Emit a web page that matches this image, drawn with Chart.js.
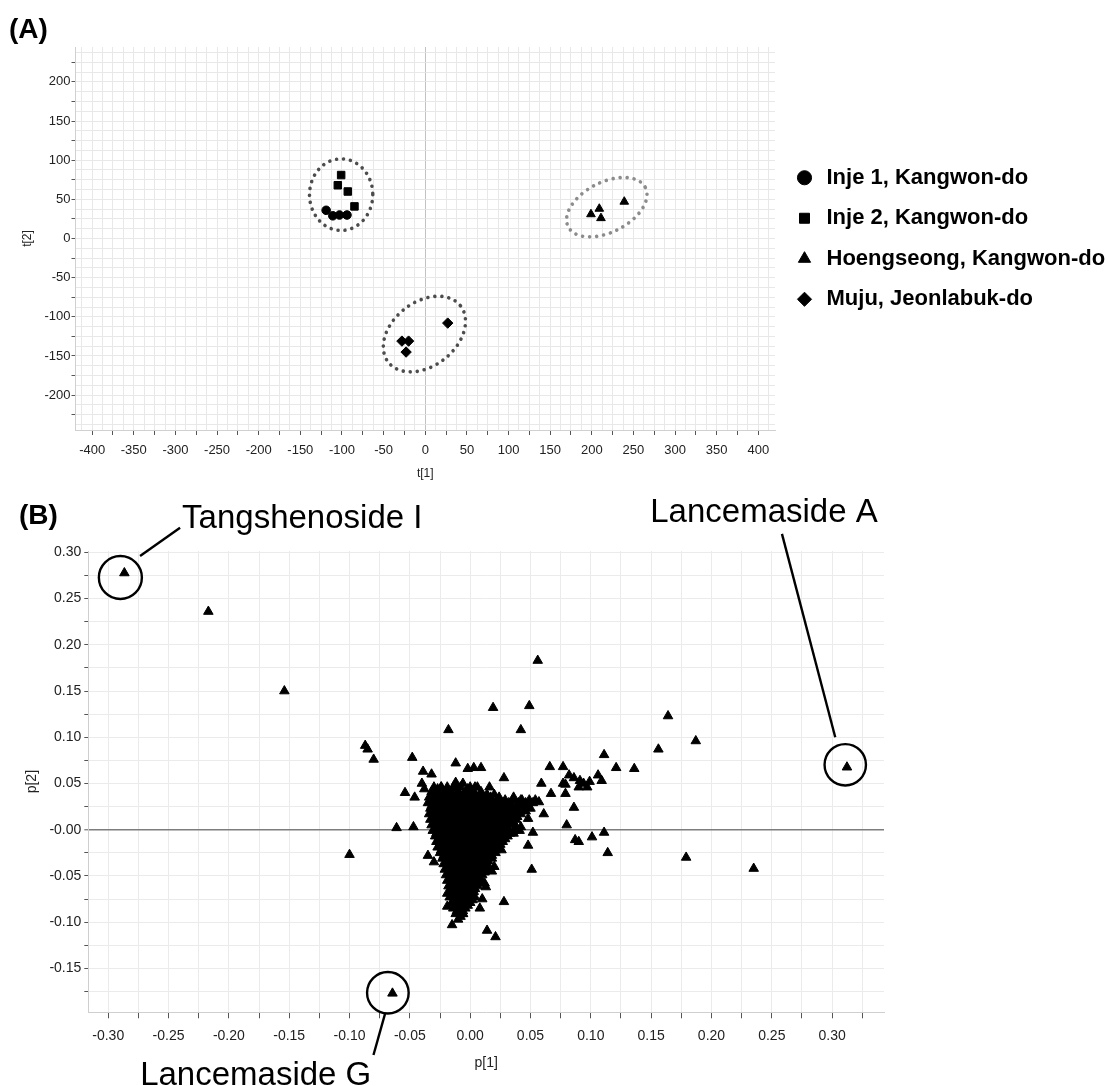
<!DOCTYPE html>
<html>
<head>
<meta charset="utf-8">
<script src="https://cdn.jsdelivr.net/npm/chart.js@4.4.1/dist/chart.umd.min.js"></script>
<style>
  body { margin: 0; background: #fff; }
  canvas { display: block; }
</style>
</head>
<body>
<canvas id="scoreChart" width="1110" height="482"></canvas>
<canvas id="loadingChart" width="1110" height="604"></canvas>
<script>
"use strict";

/* (A) PCA scores */
const groupNames = ['Inje 1, Kangwon-do', 'Inje 2, Kangwon-do', 'Hoengseong, Kangwon-do', 'Muju, Jeonlabuk-do'];
const inje1 = [[-119, 36], [-111, 29], [-103, 30], [-94, 30]];
const inje2 = [[-101, 81], [-105, 68], [-93, 60], [-85, 41]];
const hoengseong = [[199, 31], [209, 38], [211, 26], [239, 47]];
const muju = [[-28, -131], [-20, -131], [-23, -145], [27, -108]];
const scoreLabelsX = [-400, -350, -300, -250, -200, -150, -100, -50, 0, 50, 100, 150, 200, 250, 300, 350, 400];
const scoreLabelsY = [-200, -150, -100, -50, 0, 50, 100, 150, 200];

// dotted group outlines: centre (t units), half axes (t[1] units), tilt in degrees
const groupOutlines = [
    { cx: -101, cy: 56, a: 38, b: 43, tilt: 0 },
    { cx: -1, cy: -122, a: 55, b: 38.4, tilt: 38 },
    { cx: 218, cy: 40, a: 52, b: 30, tilt: 27 }
];
const outlineColors = ['#4d4d4d', '#4d4d4d', '#8c8c8c'];

/* (B) PCA loadings */
const namedCompounds = [
    { name: 'Tangshenoside I', x: -0.2866, y: 0.2777 },
    { name: 'Lancemaside A', x: 0.3123, y: 0.0676 },
    { name: 'Lancemaside G', x: -0.0644, y: -0.177 }
];
const scatteredLoadings = [
    [-0.217, 0.236], [-0.154, 0.150],
    [0.056, 0.183], [0.019, 0.132], [0.049, 0.134], [-0.018, 0.108], [0.042, 0.108],
    [0.164, 0.123], [0.187, 0.096], [0.156, 0.087],
    [-0.087, 0.091], [-0.085, 0.087], [-0.080, 0.076], [-0.048, 0.078],
    [-0.100, -0.027], [-0.061, 0.002], [-0.047, 0.003], [-0.054, 0.040], [-0.046, 0.035],
    [-0.040, 0.050], [-0.038, 0.044], [-0.039, 0.063], [-0.032, 0.060],
    [-0.012, 0.072], [0.003, 0.067], [0.009, 0.067], [-0.002, 0.066],
    [-0.012, 0.051], [-0.006, 0.050], [0.000, 0.046], [0.006, 0.046], [0.016, 0.046],
    [-0.024, 0.046], [-0.019, 0.046], [0.028, 0.056]
];
const rightArmLoadings = [
    [0.066, 0.068], [0.077, 0.068], [0.059, 0.050], [0.077, 0.050], [0.111, 0.081], [0.121, 0.067], [0.136, 0.066],
    [0.082, 0.059], [0.086, 0.056], [0.091, 0.053], [0.094, 0.050], [0.097, 0.046], [0.090, 0.046],
    [0.106, 0.059], [0.109, 0.053], [0.099, 0.052], [0.079, 0.049],
    [0.067, 0.039], [0.079, 0.039], [0.086, 0.024], [0.061, 0.017],
    [0.054, 0.032], [0.057, 0.030], [0.047, 0.024], [0.042, 0.032], [0.030, 0.028], [0.022, 0.026],
    [0.080, 0.005], [0.048, 0.012], [0.042, 0.003], [0.036, -0.004], [0.052, -0.003], [0.048, -0.017],
    [0.087, -0.011], [0.090, -0.013], [0.101, -0.008], [0.111, -0.003], [0.114, -0.025],
    [0.179, -0.030], [0.235, -0.042], [0.051, -0.043]
];
const lowerLoadings = [
    [0.028, -0.078], [0.014, -0.109], [0.021, -0.116], [-0.015, -0.103], [-0.006, -0.091], [-0.019, -0.083],
    [-0.035, -0.028], [-0.030, -0.035], [0.012, -0.058], [0.013, -0.062], [0.026, -0.022], [0.022, -0.019],
    [0.018, -0.045], [0.020, -0.040], [-0.019, -0.069], [-0.012, -0.069], [0.008, -0.085], [0.010, -0.075]
];
// the dense core, read row by row (p[2] value, then the p[1] values on that row)
const coreRowsY = [0.046, 0.044, 0.041, 0.038, 0.035, 0.032, 0.029, 0.026, 0.023, 0.020, 0.017, 0.014,
    0.011, 0.008, 0.005, 0.002, -0.001, -0.004, -0.007, -0.010, -0.013, -0.016, -0.019, -0.022,
    -0.025, -0.028, -0.031, -0.034, -0.037, -0.040, -0.043, -0.046, -0.049, -0.052, -0.055, -0.058,
    -0.061, -0.064, -0.067, -0.070, -0.073, -0.076, -0.079, -0.082, -0.085, -0.088, -0.091, -0.094, -0.097];
const coreRowsX = [
    [-0.030, -0.024, -0.014, -0.008, 0.004],
    [-0.027, -0.019, -0.011, -0.002],
    [-0.032, -0.027, -0.021, -0.016, -0.010, -0.004, 0.003, 0.009],
    [-0.031, -0.026, -0.021, -0.016, -0.011, -0.006, -0.001, 0.004, 0.009, 0.014, 0.020],
    [-0.034, -0.029, -0.024, -0.019, -0.013, -0.009, -0.004, 0.001, 0.006, 0.012, 0.017, 0.024, 0.036],
    [-0.032, -0.027, -0.022, -0.017, -0.012, -0.007, -0.002, 0.003, 0.008, 0.013, 0.018, 0.023, 0.029, 0.036, 0.043, 0.049],
    [-0.035, -0.030, -0.025, -0.020, -0.015, -0.010, -0.005, 0.000, 0.005, 0.010, 0.015, 0.021, 0.026, 0.032, 0.040, 0.046, 0.052],
    [-0.032, -0.027, -0.022, -0.017, -0.012, -0.007, -0.002, 0.003, 0.008, 0.013, 0.018, 0.023, 0.029, 0.035, 0.041, 0.047],
    [-0.033, -0.028, -0.023, -0.018, -0.013, -0.008, -0.003, 0.002, 0.007, 0.012, 0.017, 0.022, 0.027, 0.033, 0.038, 0.044, 0.050],
    [-0.031, -0.026, -0.021, -0.016, -0.011, -0.006, -0.001, 0.004, 0.009, 0.014, 0.019, 0.024, 0.029, 0.034, 0.040, 0.046],
    [-0.034, -0.029, -0.024, -0.019, -0.014, -0.009, -0.004, 0.001, 0.006, 0.011, 0.016, 0.021, 0.026, 0.031, 0.036, 0.042],
    [-0.031, -0.026, -0.021, -0.016, -0.011, -0.006, -0.001, 0.004, 0.009, 0.014, 0.019, 0.024, 0.029, 0.034, 0.039],
    [-0.033, -0.028, -0.023, -0.018, -0.013, -0.008, -0.003, 0.002, 0.007, 0.012, 0.017, 0.022, 0.027, 0.033, 0.038],
    [-0.030, -0.025, -0.020, -0.015, -0.010, -0.005, 0.000, 0.005, 0.010, 0.015, 0.020, 0.025, 0.030, 0.036],
    [-0.032, -0.027, -0.022, -0.017, -0.012, -0.007, -0.002, 0.003, 0.008, 0.013, 0.018, 0.023, 0.028, 0.034],
    [-0.029, -0.024, -0.019, -0.014, -0.009, -0.004, 0.001, 0.006, 0.011, 0.016, 0.021, 0.026, 0.031, 0.038],
    [-0.031, -0.026, -0.021, -0.016, -0.011, -0.006, -0.001, 0.004, 0.009, 0.014, 0.019, 0.024, 0.029, 0.036, 0.041],
    [-0.028, -0.023, -0.018, -0.013, -0.008, -0.003, 0.002, 0.007, 0.012, 0.017, 0.022, 0.027, 0.033],
    [-0.029, -0.024, -0.019, -0.014, -0.009, -0.004, 0.001, 0.006, 0.011, 0.016, 0.021, 0.026, 0.031],
    [-0.026, -0.021, -0.016, -0.011, -0.006, -0.001, 0.004, 0.009, 0.014, 0.019, 0.024, 0.029],
    [-0.028, -0.023, -0.018, -0.013, -0.008, -0.003, 0.002, 0.007, 0.012, 0.017, 0.022, 0.027],
    [-0.025, -0.020, -0.015, -0.010, -0.005, 0.000, 0.005, 0.010, 0.015, 0.020, 0.025],
    [-0.027, -0.022, -0.017, -0.012, -0.007, -0.002, 0.003, 0.008, 0.013, 0.018, 0.024],
    [-0.024, -0.019, -0.014, -0.009, -0.004, 0.001, 0.006, 0.011, 0.016, 0.021],
    [-0.025, -0.020, -0.015, -0.010, -0.005, 0.000, 0.005, 0.010, 0.015, 0.021],
    [-0.022, -0.017, -0.012, -0.007, -0.002, 0.003, 0.008, 0.013, 0.018],
    [-0.023, -0.018, -0.013, -0.008, -0.003, 0.002, 0.007, 0.012, 0.018],
    [-0.020, -0.015, -0.010, -0.005, 0.000, 0.005, 0.010, 0.015],
    [-0.022, -0.017, -0.012, -0.007, -0.002, 0.003, 0.008, 0.014],
    [-0.019, -0.014, -0.009, -0.004, 0.001, 0.006, 0.011],
    [-0.021, -0.016, -0.011, -0.006, -0.001, 0.004, 0.009, 0.015],
    [-0.018, -0.013, -0.008, -0.003, 0.002, 0.007, 0.012],
    [-0.020, -0.015, -0.010, -0.005, 0.000, 0.005, 0.010],
    [-0.017, -0.012, -0.007, -0.002, 0.003, 0.008],
    [-0.019, -0.014, -0.009, -0.004, 0.001, 0.007],
    [-0.016, -0.011, -0.006, -0.001, 0.004, 0.009],
    [-0.018, -0.013, -0.008, -0.003, 0.002, 0.006],
    [-0.015, -0.010, -0.005, 0.000, 0.004],
    [-0.017, -0.012, -0.007, -0.002, 0.003],
    [-0.014, -0.009, -0.004, 0.001],
    [-0.017, -0.012, -0.006, -0.001, 0.004],
    [-0.014, -0.009, -0.003, 0.002],
    [-0.015, -0.010, -0.005, 0.000],
    [-0.012, -0.007, -0.002],
    [-0.014, -0.009, -0.004],
    [-0.011, -0.006],
    [-0.012, -0.006],
    [-0.008],
    [-0.010]
];
const loadingLabelsX = [-0.30, -0.25, -0.20, -0.15, -0.10, -0.05, 0, 0.05, 0.10, 0.15, 0.20, 0.25, 0.30];
const loadingLabelsY = [-0.15, -0.10, -0.05, 0, 0.05, 0.10, 0.15, 0.20, 0.25, 0.30];

// ring, leader line and label, in pixels relative to each named compound
const calloutLayout = [
    { ring: [-4, 4.5, 21.5], line: [15.7, -17, 55.7, -45.3], label: [57.7, -45] },
    { ring: [-1.7, -2.4, 20.7], line: [-11.7, -30, -65, -233.4], label: [-196.7, -245] },
    { ring: [-4.6, -0.6, 20.8], line: [-7.3, 20, -19, 61.7], label: [-252.3, 91.5] }
];

Chart.defaults.font.family = '"Liberation Sans", Arial, sans-serif';
Chart.defaults.color = '#222';

const toPoints = pairs => pairs.map(([x, y]) => ({ x, y }));
const isMultiple = (v, m) => Math.abs(v / m - Math.round(v / m)) < 1e-6;
function stepsBetween(lo, hi, step) {
    const out = [];
    for (let v = lo; v <= hi + step / 1000; v += step) out.push({ value: Math.round(v * 10000) / 10000 });
    return out;
}
const hasLabel = (list, v) => list.some(l => Math.abs(l - v) < 1e-6);

const outlinePlugin = {
    id: 'outlines',
    beforeDatasetsDraw(chart) {
        const { ctx, scales: { x, y } } = chart;
        const unit = Math.abs(x.getPixelForValue(1) - x.getPixelForValue(0));
        ctx.save();
        ctx.lineCap = 'round';
        ctx.lineWidth = 3.6;
        ctx.setLineDash([0.01, 7]);
        groupOutlines.forEach((e, i) => {
            ctx.strokeStyle = outlineColors[i];
            ctx.beginPath();
            ctx.ellipse(x.getPixelForValue(e.cx), y.getPixelForValue(e.cy), e.a * unit, e.b * unit,
                -e.tilt * Math.PI / 180, 0, Math.PI * 2);
            ctx.stroke();
        });
        ctx.restore();
    },
    afterDraw(chart) {
        const ctx = chart.ctx;
        ctx.save();
        ctx.fillStyle = '#000';
        ctx.font = 'bold 28px "Liberation Sans"';
        ctx.fillText('(A)', 9, 38);
        ctx.restore();
    }
};

const calloutPlugin = {
    id: 'callouts',
    afterDatasetsDraw(chart) {
        const { ctx, scales: { x, y } } = chart;
        ctx.save();
        ctx.strokeStyle = '#000';
        ctx.fillStyle = '#000';
        ctx.lineWidth = 2.4;
        ctx.font = '33px "Liberation Sans"';
        namedCompounds.forEach((c, i) => {
            const s = calloutLayout[i];
            const px = x.getPixelForValue(c.x);
            const py = y.getPixelForValue(c.y);
            ctx.beginPath();
            ctx.arc(px + s.ring[0], py + s.ring[1], s.ring[2], 0, Math.PI * 2);
            ctx.stroke();
            ctx.beginPath();
            ctx.moveTo(px + s.line[0], py + s.line[1]);
            ctx.lineTo(px + s.line[2], py + s.line[3]);
            ctx.stroke();
            ctx.fillText(c.name, px + s.label[0], py + s.label[1]);
        });
        ctx.font = 'bold 28px "Liberation Sans"';
        ctx.fillText('(B)', 19, 42);
        ctx.restore();
    }
};

const markerStyles = ['circle', 'rect', 'triangle', 'rectRot'];
const markerSizes = [4.3, 5.3, 5, 5.2];

new Chart(document.getElementById('scoreChart'), {
    type: 'scatter',
    data: {
        datasets: [inje1, inje2, hoengseong, muju].map((g, i) => ({
            label: groupNames[i],
            data: toPoints(g),
            pointStyle: markerStyles[i],
            pointRadius: markerSizes[i],
            backgroundColor: '#000',
            borderColor: '#000',
            borderWidth: 1
        }))
    },
    options: {
        responsive: false,
        animation: false,
        events: [],
        layout: { padding: { top: 47, left: 0, right: 0, bottom: 0 } },
        plugins: {
            tooltip: { enabled: false },
            legend: {
                position: 'right',
                fullSize: false,
                maxWidth: 335,
                labels: {
                    usePointStyle: true,
                    boxWidth: 22,
                    boxHeight: 10,
                    padding: 18.5,
                    color: '#000',
                    font: { size: 22, weight: 'bold' }
                }
            }
        },
        scales: {
            x: {
                type: 'linear',
                min: -420,
                max: 420,
                bounds: 'data',
                afterBuildTicks: s => { s.ticks = stepsBetween(-412.5, 412.5, 12.5); },
                afterFit: s => { s.height = 52; },
                grid: {
                    color: c => c.tick && c.tick.value === 0 ? '#c2c2c2' : '#e8e8e8',
                    tickColor: c => c.tick && isMultiple(c.tick.value, 25) ? '#555' : 'rgba(0,0,0,0)',
                    tickLength: 5,
                    tickWidth: 1
                },
                border: { color: '#d0d0d0' },
                ticks: {
                    autoSkip: false,
                    maxRotation: 0,
                    padding: 8,
                    font: { size: 13 },
                    callback: v => hasLabel(scoreLabelsX, v) ? String(v) : ''
                },
                title: { display: true, text: 't[1]', font: { size: 12 }, padding: { top: 0, bottom: 1 } }
            },
            y: {
                type: 'linear',
                min: -244.5,
                max: 244.5,
                bounds: 'data',
                afterBuildTicks: s => { s.ticks = stepsBetween(-237.5, 237.5, 12.5); },
                afterFit: s => { s.width = 75.5; },
                grid: {
                    color: '#e8e8e8',
                    tickColor: c => c.tick && isMultiple(c.tick.value, 25) ? '#555' : 'rgba(0,0,0,0)',
                    tickLength: 4,
                    tickWidth: 1
                },
                border: { color: '#d0d0d0' },
                ticks: {
                    autoSkip: false,
                    padding: 1,
                    font: { size: 13 },
                    callback: v => hasLabel(scoreLabelsY, v) ? String(v) : ''
                },
                title: { display: true, text: 't[2]', font: { size: 12 }, padding: { top: 20, bottom: 0 } }
            }
        }
    },
    plugins: [outlinePlugin]
});

const corePoints = coreRowsY.flatMap((yv, i) => coreRowsX[i].map(xv => ({ x: xv, y: yv })));
const fmt2 = v => (Math.round(v * 100) / 100).toFixed(2);

new Chart(document.getElementById('loadingChart'), {
    type: 'scatter',
    data: {
        datasets: [{
            label: 'loadings',
            data: corePoints
                .concat(toPoints(scatteredLoadings))
                .concat(toPoints(rightArmLoadings))
                .concat(toPoints(lowerLoadings))
                .concat(namedCompounds.map(c => ({ x: c.x, y: c.y }))),
            pointStyle: 'triangle',
            pointRadius: 5.5,
            backgroundColor: '#000',
            borderColor: '#000',
            borderWidth: 1
        }]
    },
    options: {
        responsive: false,
        animation: false,
        events: [],
        layout: { padding: { top: 69, right: 226, left: 0, bottom: 0 } },
        plugins: {
            legend: { display: false },
            tooltip: { enabled: false }
        },
        scales: {
            x: {
                type: 'linear',
                min: -0.3165,
                max: 0.343,
                bounds: 'data',
                afterBuildTicks: s => { s.ticks = stepsBetween(-0.3, 0.325, 0.025); },
                afterFit: s => { s.height = 73.7; },
                grid: { color: '#ebebeb', tickColor: '#555', tickLength: 6, tickWidth: 1 },
                border: { color: '#cfcfcf' },
                ticks: {
                    autoSkip: false,
                    maxRotation: 0,
                    padding: 9,
                    font: { size: 14 },
                    callback: v => hasLabel(loadingLabelsX, v) ? fmt2(v) : ''
                },
                title: { display: true, text: 'p[1]', font: { size: 14 }, padding: { top: 0, bottom: 14.6 } }
            },
            y: {
                type: 'linear',
                min: -0.1975,
                max: 0.3015,
                bounds: 'data',
                afterBuildTicks: s => { s.ticks = stepsBetween(-0.175, 0.3, 0.025); },
                afterFit: s => { s.width = 88.3; },
                grid: {
                    color: c => c.tick && Math.abs(c.tick.value) < 1e-9 ? '#7d7d7d' : '#ebebeb',
                    lineWidth: c => c.tick && Math.abs(c.tick.value) < 1e-9 ? 1.6 : 1,
                    tickColor: '#555',
                    tickLength: 4,
                    tickWidth: 1
                },
                border: { color: '#cfcfcf' },
                ticks: {
                    autoSkip: false,
                    padding: 3,
                    font: { size: 14 },
                    callback: v => !hasLabel(loadingLabelsY, v) ? '' : (Math.abs(v) < 1e-9 ? '-0.00' : fmt2(v))
                },
                title: { display: true, text: 'p[2]', font: { size: 14 }, padding: { top: 24, bottom: 0 } }
            }
        }
    },
    plugins: [calloutPlugin]
});
</script>
</body>
</html>
